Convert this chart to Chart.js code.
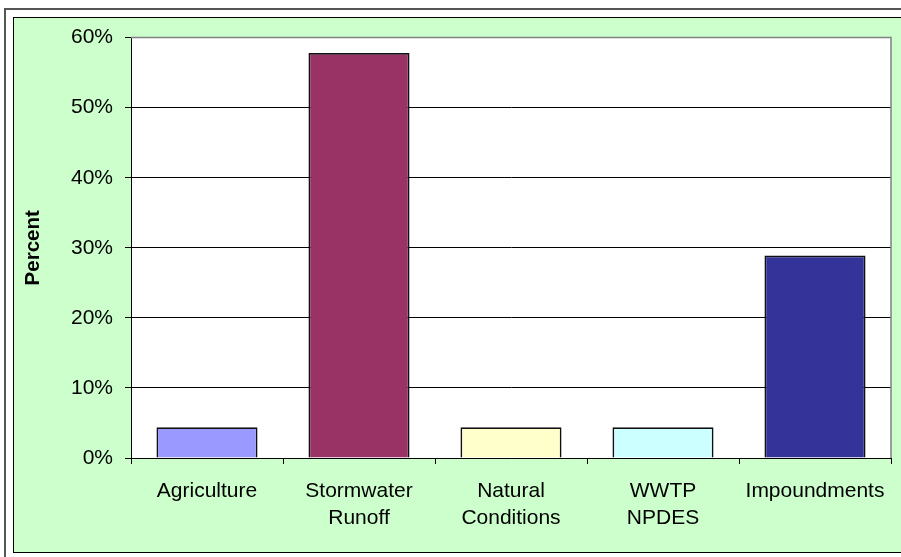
<!DOCTYPE html>
<html>
<head>
<meta charset="utf-8">
<script src="https://cdn.jsdelivr.net/npm/chart.js@4"></script>
<style>
  html, body { margin: 0; padding: 0; background: #fff; overflow: hidden; width: 901px; height: 557px; }
  #frame { position: absolute; left: 4px; top: 8px; width: 1000px; height: 700px;
           border-left: 2px solid #555; border-top: 2px solid #555; }
  #panel { position: absolute; left: 13px; top: 17px; width: 900px; height: 534px;
           border: 1px solid #000; background: #ccffcc; overflow: hidden; }
  #chart { position: absolute; left: 0; top: -5px; display: block; }
</style>
</head>
<body>
<div id="frame"></div>
<div id="panel"><canvas id="chart" width="900" height="539"></canvas></div>
<script>
// Share of impairment by source category
const categories = [
  ["Agriculture"],
  ["Stormwater", "Runoff"],
  ["Natural", "Conditions"],
  ["WWTP", "NPDES"],
  ["Impoundments"]
];
const percentValues = [4.4, 57.8, 4.4, 4.4, 28.9];
const yTicks = [0, 10, 20, 30, 40, 50, 60];

const barColors = ["#9999ff", "#993366", "#ffffcc", "#ccffff", "#333399"];
const FONT = "'Liberation Sans', Arial, sans-serif";

// white plot area plus grey top/right frame
const plotFrame = {
  id: "plotFrame",
  beforeDraw(chart) {
    const { ctx, chartArea: a } = chart;
    ctx.save();
    ctx.fillStyle = "#ffffff";
    ctx.fillRect(a.left, a.top, a.right - a.left, a.bottom - a.top);
    ctx.restore();
  },
  afterDraw(chart) {
    const { ctx, chartArea: a } = chart;
    ctx.save();
    ctx.strokeStyle = "#808080";
    ctx.lineWidth = 1.5;
    ctx.beginPath();
    ctx.moveTo(a.left, a.top);
    ctx.lineTo(a.right, a.top);
    ctx.lineTo(a.right, a.bottom);
    ctx.stroke();
    ctx.restore();
  }
};

new Chart(document.getElementById("chart"), {
  type: "bar",
  data: {
    labels: categories,
    datasets: [{
      data: percentValues,
      backgroundColor: barColors,
      borderColor: "#111",
      borderWidth: 1.8,
      categoryPercentage: 1,
      barPercentage: 0.665
    }]
  },
  options: {
    responsive: false,
    animation: false,
    layout: { padding: { top: 14, right: 23, left: 0, bottom: 0 } },
    plugins: { legend: { display: false }, tooltip: { enabled: false } },
    scales: {
      x: {
        offset: true,
        grid: { offset: true, drawOnChartArea: false, drawTicks: true, tickLength: 6, color: "#000", lineWidth: 1 },
        border: { display: true, color: "#000", width: 1 },
        ticks: { color: "#000", padding: 14, maxRotation: 0, autoSkip: false,
                 font: { family: FONT, size: 21, lineHeight: 1.28 } },
        afterFit(scale) { scale.height = 94; }
      },
      y: {
        min: 0,
        max: 60,
        afterBuildTicks(scale) { scale.ticks = yTicks.map(v => ({ value: v })); },
        grid: {
          color: ctx => (ctx.tick && ctx.tick.value === 60 ? "#808080" : "#000"),
          lineWidth: 1, tickLength: 6, tickColor: "#000", drawTicks: true
        },
        border: { display: true, color: "#000", width: 1 },
        ticks: { color: "#000", padding: 12, font: { family: FONT, size: 21 },
                 callback: v => v + "%" },
        title: { display: true, text: "Percent", color: "#000", padding: { top: 7, bottom: 0 },
                 font: { family: FONT, size: 20.5, weight: "bold", lineHeight: 1.2 } },
        afterFit(scale) { scale.width = 117; }
      }
    }
  },
  plugins: [plotFrame]
});
</script>
</body>
</html>
